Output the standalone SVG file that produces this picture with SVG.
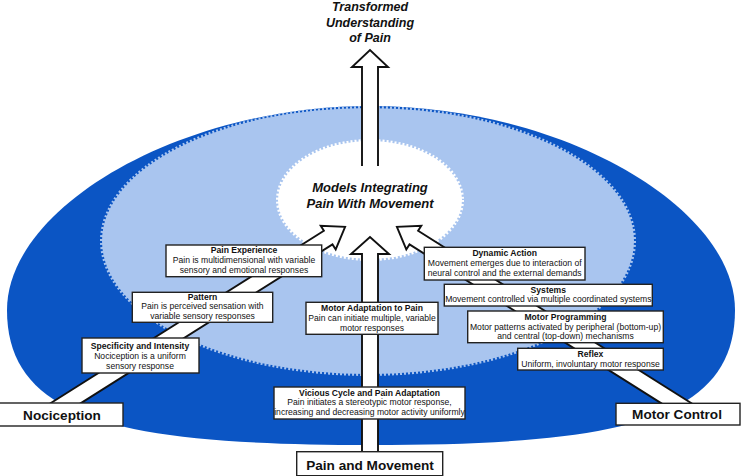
<svg xmlns="http://www.w3.org/2000/svg" width="741" height="476" viewBox="0 0 741 476">
<style>
  .bg { fill: #ffffff; }
  .outer { fill: #0b55c4; }
  .mid { fill: #a9c5ef; stroke: #a9c5ef; stroke-width: 4; stroke-dasharray: 2 2; }
  .core { fill: #ffffff; stroke: #ffffff; stroke-width: 4; stroke-dasharray: 2 2; }
  .arrow { fill: #ffffff; stroke: #111111; stroke-width: 1.9; stroke-linejoin: miter; }
  .box { fill: #ffffff; stroke: #222222; stroke-width: 1.4; }
  text { font-family: "Liberation Sans", Arial, sans-serif; fill: #111111; text-anchor: middle; }
  .h { font-size: 8.6px; font-weight: bold; }
  .d { font-size: 8.6px; }
  .big { font-size: 13.6px; font-weight: bold; }
  .it { font-size: 13px; font-weight: bold; font-style: italic; }
  .ttl { font-size: 12.5px; font-weight: bold; font-style: italic; }
</style>
<rect class="bg" x="0" y="0" width="741" height="476"/>
<g id="background">
  <path class="outer" d="M371,106 C178,106 7,208 7,310 C7,420 121,445 371,445 C621,445 735,420 735,310 C735,208 564,106 371,106 Z"/>
  <ellipse class="mid" cx="368" cy="241" rx="266" ry="133"/>
</g>
<g id="models-integrating">
  <ellipse class="core" cx="370" cy="200" rx="92" ry="59"/>
  <text class="it" x="370" y="192">Models Integrating</text>
  <text class="it" x="370" y="208">Pain With Movement</text>
</g>
<g id="connectors">
  <path class="arrow" d="M362,166 V67 H352 L370,50 L388,67 H378 V166"/>
  <polygon class="arrow" points="362,462 362,254 351,254 370,237 389,254 378,254 378,462"/>
  <polygon class="arrow" points="40.6,409.5 323.9,230.8 320.7,225.8 345.1,226.9 335.7,249.4 332.5,244.4 49.2,423.1"/>
  <polygon class="arrow" points="701.4,409.5 418.1,230.8 421.3,225.8 396.9,226.9 406.3,249.4 409.5,244.4 692.8,423.1"/>
</g>
<g id="transformed-understanding">
  <text class="ttl" x="370" y="11">Transformed</text>
  <text class="ttl" x="370" y="26.5">Understanding</text>
  <text class="ttl" x="370" y="42">of Pain</text>
</g>
<g id="nociception">
  <rect class="box" x="-1" y="403" width="124" height="23"/>
  <text class="big" x="62" y="419.5">Nociception</text>
</g>
<g id="specificity-intensity">
  <rect class="box" x="82" y="338" width="117" height="35"/>
  <text class="h" x="140" y="349.3">Specificity and Intensity</text>
  <text class="d" x="140" y="359">Nociception is a uniform</text>
  <text class="d" x="140" y="368.7">sensory response</text>
</g>
<g id="pattern">
  <rect class="box" x="132.3" y="292.3" width="140.4" height="30"/>
  <text class="h" x="202.5" y="299.5">Pattern</text>
  <text class="d" x="202.5" y="309.3">Pain is perceived sensation with</text>
  <text class="d" x="202.5" y="319.2">variable sensory responses</text>
</g>
<g id="pain-experience">
  <rect class="box" x="166" y="245" width="155.7" height="31.7"/>
  <text class="h" x="244" y="252.8">Pain Experience</text>
  <text class="d" x="244" y="262.7">Pain is multidimensional with variable</text>
  <text class="d" x="244" y="272.6">sensory and emotional responses</text>
</g>
<g id="motor-adaptation">
  <rect class="box" x="306" y="302.3" width="132" height="32"/>
  <text class="h" x="372" y="310.7">Motor Adaptation to Pain</text>
  <text class="d" x="372" y="321">Pain can initiate multiple, variable</text>
  <text class="d" x="372" y="331">motor responses</text>
</g>
<g id="vicious-cycle">
  <rect class="box" x="274" y="387" width="191" height="32"/>
  <text class="h" x="369.5" y="395.7">Vicious Cycle and Pain Adaptation</text>
  <text class="d" x="369.5" y="405">Pain initiates a stereotypic motor response,</text>
  <text class="d" x="369.5" y="414.7">increasing and decreasing motor activity uniformly</text>
</g>
<g id="pain-and-movement">
  <rect class="box" x="296.7" y="451.7" width="146" height="24"/>
  <text class="big" x="370" y="470">Pain and Movement</text>
</g>
<g id="dynamic-action">
  <rect class="box" x="424.3" y="247.3" width="160.7" height="32.7"/>
  <text class="h" x="504.7" y="256">Dynamic Action</text>
  <text class="d" x="504.7" y="266">Movement emerges due to interaction of</text>
  <text class="d" x="504.7" y="276">neural control and the external demands</text>
</g>
<g id="systems">
  <rect class="box" x="444.3" y="284.3" width="208" height="21.7"/>
  <text class="h" x="548.3" y="292.7">Systems</text>
  <text class="d" x="548.3" y="302.3">Movement controlled via multiple coordinated systems</text>
</g>
<g id="motor-programming">
  <rect class="box" x="467.7" y="311" width="195.6" height="31.7"/>
  <text class="h" x="565.5" y="320">Motor Programming</text>
  <text class="d" x="565.5" y="330">Motor patterns activated by peripheral (bottom-up)</text>
  <text class="d" x="565.5" y="339.4">and central (top-down) mechanisms</text>
</g>
<g id="reflex">
  <rect class="box" x="517.7" y="348.3" width="145.6" height="21.7"/>
  <text class="h" x="590.5" y="357.3">Reflex</text>
  <text class="d" x="590.5" y="367.2">Uniform, involuntary motor response</text>
</g>
<g id="motor-control">
  <rect class="box" x="616" y="403.3" width="124" height="21.7"/>
  <text class="big" x="677" y="419">Motor Control</text>
</g>
</svg>
